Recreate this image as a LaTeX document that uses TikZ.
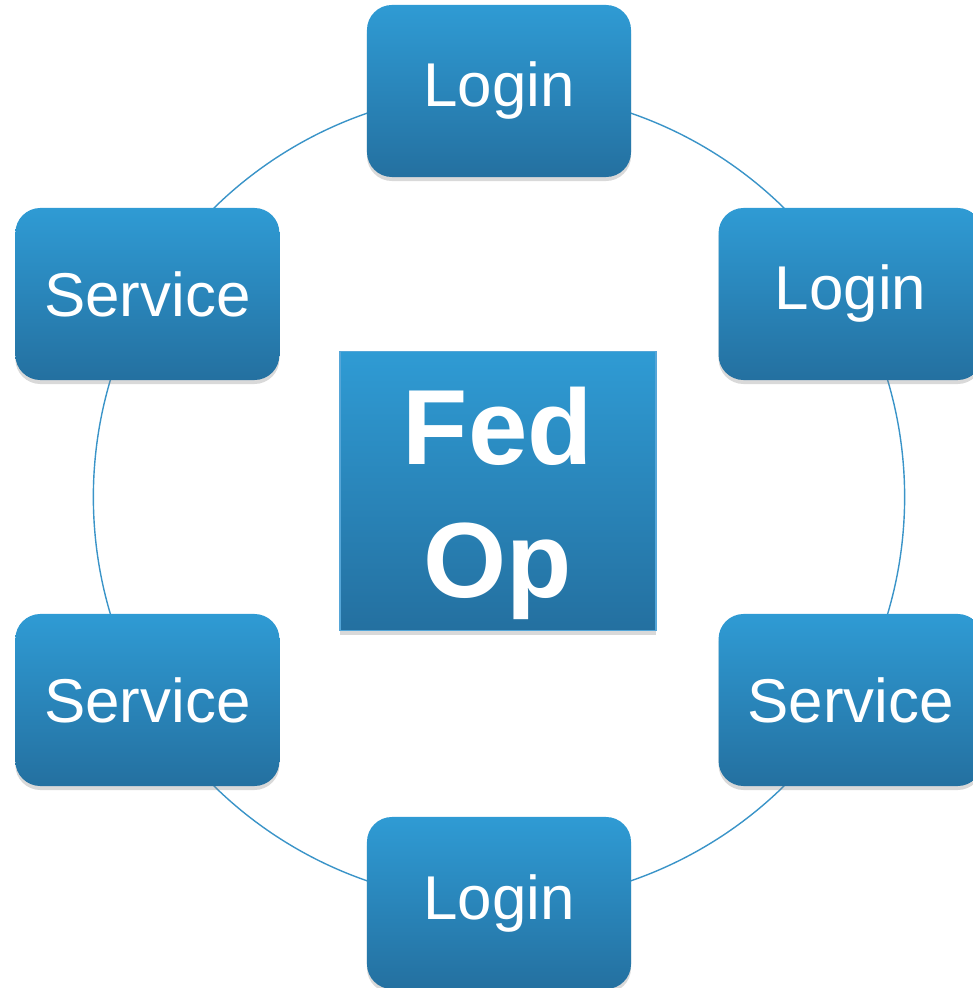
\documentclass[tikz,border=0pt]{standalone}
\usepackage{fontspec}
\setmainfont{Liberation Sans}
\usepackage{tikz}
\usetikzlibrary{shadows,backgrounds}
\definecolor{boxtop}{HTML}{2F9BD4}
\definecolor{boxbottom}{HTML}{2470A0}
\definecolor{ring}{HTML}{3A94C8}
\definecolor{rim}{HTML}{55A6D8}
\tikzset{
    %Define style for the small boxes
    member/.style={
           rectangle,
           rounded corners=0.625cm,
           top color=boxtop,
           bottom color=boxbottom,
           minimum width=6.6cm,
           minimum height=4.3cm,
           text=white,
           font=\fontsize{44}{50}\selectfont,
           drop shadow={shadow xshift=0pt,shadow yshift=-0.1cm,opacity=0.3},
           text centered},
    %Define style for the centre box
    hub/.style={
           rectangle,
           top color=boxtop,
           bottom color=boxbottom,
           draw=rim, line width=0.04cm,
           minimum width=7.9cm,
           minimum height=6.975cm,
           text=white,
           align=center,
           font=\fontsize{76}{91}\selectfont\bfseries,
           drop shadow={shadow xshift=0pt,shadow yshift=-0.1cm,opacity=0.3},
           text centered},
    % Define ring style
    link/.style={
           draw=ring,
           line width=0.035cm,
           bend left=30,
           looseness=0.91}
}
\begin{document}
\begin{tikzpicture}[x=0.025cm,y=0.025cm]
\useasboundingbox (-499,-491) rectangle (474,497);

 %nodes
\node[hub] (0) at (-1,6) {\rule{0pt}{2.55cm}Fed\\[0.12cm]Op};
\node[member] (1) at (90:406) {Login};
\node[member] (2) at (30:406) {Login};
\node[member] (3) at (-30:406) {Service};
\node[member] (4) at (-90:406) {Login};
\node[member] (5) at (210:406) {Service};
\node[member] (6) at (150:406) {Service};

 \begin{scope}[on background layer]
 \path[link]
    (1.center) edge (2.center)
    (2.center) edge (3.center)
    (3.center) edge (4.center)
    (4.center) edge (5.center)
    (5.center) edge (6.center)
    (6.center) edge (1.center);
 \end{scope}

\end{tikzpicture}
\end{document}
